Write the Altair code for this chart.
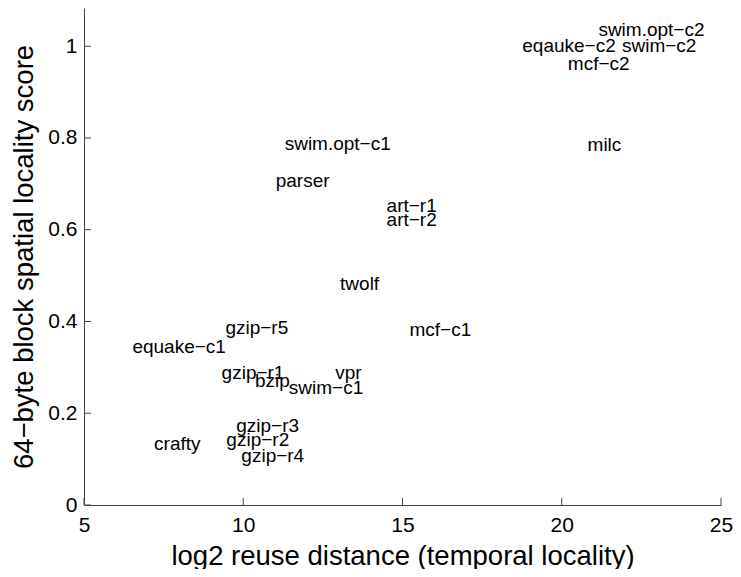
import altair as alt
import pandas as pd

labels = ["swim.opt−c2", "eqauke−c2", "swim−c2", "mcf−c2", "milc",
          "art−r1", "art−r2", "swim.opt−c1", "parser", "twolf", "mcf−c1",
          "gzip−r5", "equake−c1", "gzip−r1", "bzip", "swim−c1", "vpr",
          "gzip−r3", "crafty", "gzip−r2", "gzip−r4"]
reuse = [21.15, 18.76, 21.89, 20.19, 20.81,
         14.50, 14.50, 11.30, 11.02, 13.04, 15.22,
         9.44, 6.52, 9.32, 10.37, 11.43, 12.89,
         9.78, 7.20, 9.47, 9.94]
spatial = [1.035, 1.001, 1.001, 0.961, 0.784,
           0.652, 0.622, 0.786, 0.706, 0.482, 0.382,
           0.385, 0.345, 0.288, 0.270, 0.255, 0.288,
           0.172, 0.133, 0.142, 0.107]

x_ticks = [5, 10, 15, 20, 25]
y_ticks = [0, 0.2, 0.4, 0.6, 0.8, 1.0]

W, H = 637, 497
FONT = "Liberation Sans"
AX = "#404040"

df = pd.DataFrame({"label": labels, "x": reuse, "y": spatial})
xt = pd.DataFrame({"t": x_ticks})
yt = pd.DataFrame({"t": y_ticks})

xscale = alt.Scale(domain=[5, 25], nice=False, zero=False)
yscale = alt.Scale(domain=[0, 1.0833], nice=False, zero=False)

xaxis = alt.Axis(values=x_ticks, ticks=False, grid=False, domainColor=AX,
                 labelFontSize=21, labelFont=FONT, labelColor="black",
                 labelPadding=9, labelFlush=False,
                 title="log2 reuse distance (temporal locality)",
                 titleFont=FONT, titleFontSize=27.5, titleFontWeight="normal",
                 titleColor="black", titleY=59, titleBaseline="alphabetic")
yaxis = alt.Axis(values=y_ticks, ticks=False, grid=False, domainColor=AX,
                 labelFontSize=21, labelFont=FONT, labelColor="black",
                 labelPadding=7, labelFlush=False, format="~g",
                 title="64−byte block spatial locality score",
                 titleFont=FONT, titleFontSize=27.5, titleFontWeight="normal",
                 titleColor="black", titleX=-52, titleY=H / 2,
                 titleAlign="center", titleAngle=270,
                 titleBaseline="alphabetic")

text = alt.Chart(df).mark_text(
    align="left", baseline="middle", font=FONT, fontSize=19, color="black"
).encode(
    x=alt.X("x:Q", scale=xscale, axis=xaxis),
    y=alt.Y("y:Q", scale=yscale, axis=yaxis),
    text="label:N",
)

xtick_marks = alt.Chart(xt).mark_rule(color=AX, strokeWidth=1).encode(
    x=alt.X("t:Q", scale=xscale),
    y=alt.value(H),
    y2=alt.value(H - 7),
)
ytick_marks = alt.Chart(yt).mark_rule(color=AX, strokeWidth=1).encode(
    y=alt.Y("t:Q", scale=yscale),
    x=alt.value(0),
    x2=alt.value(7),
)

chart = alt.layer(text, xtick_marks, ytick_marks).properties(
    width=W, height=H,
    autosize=alt.AutoSizeParams(type="none"),
    padding={"left": 76, "top": 0, "right": 12, "bottom": 64},
    background="white",
).configure_view(stroke=None)

chart.save("out.html", embed_options={"renderer": "svg", "actions": False})
